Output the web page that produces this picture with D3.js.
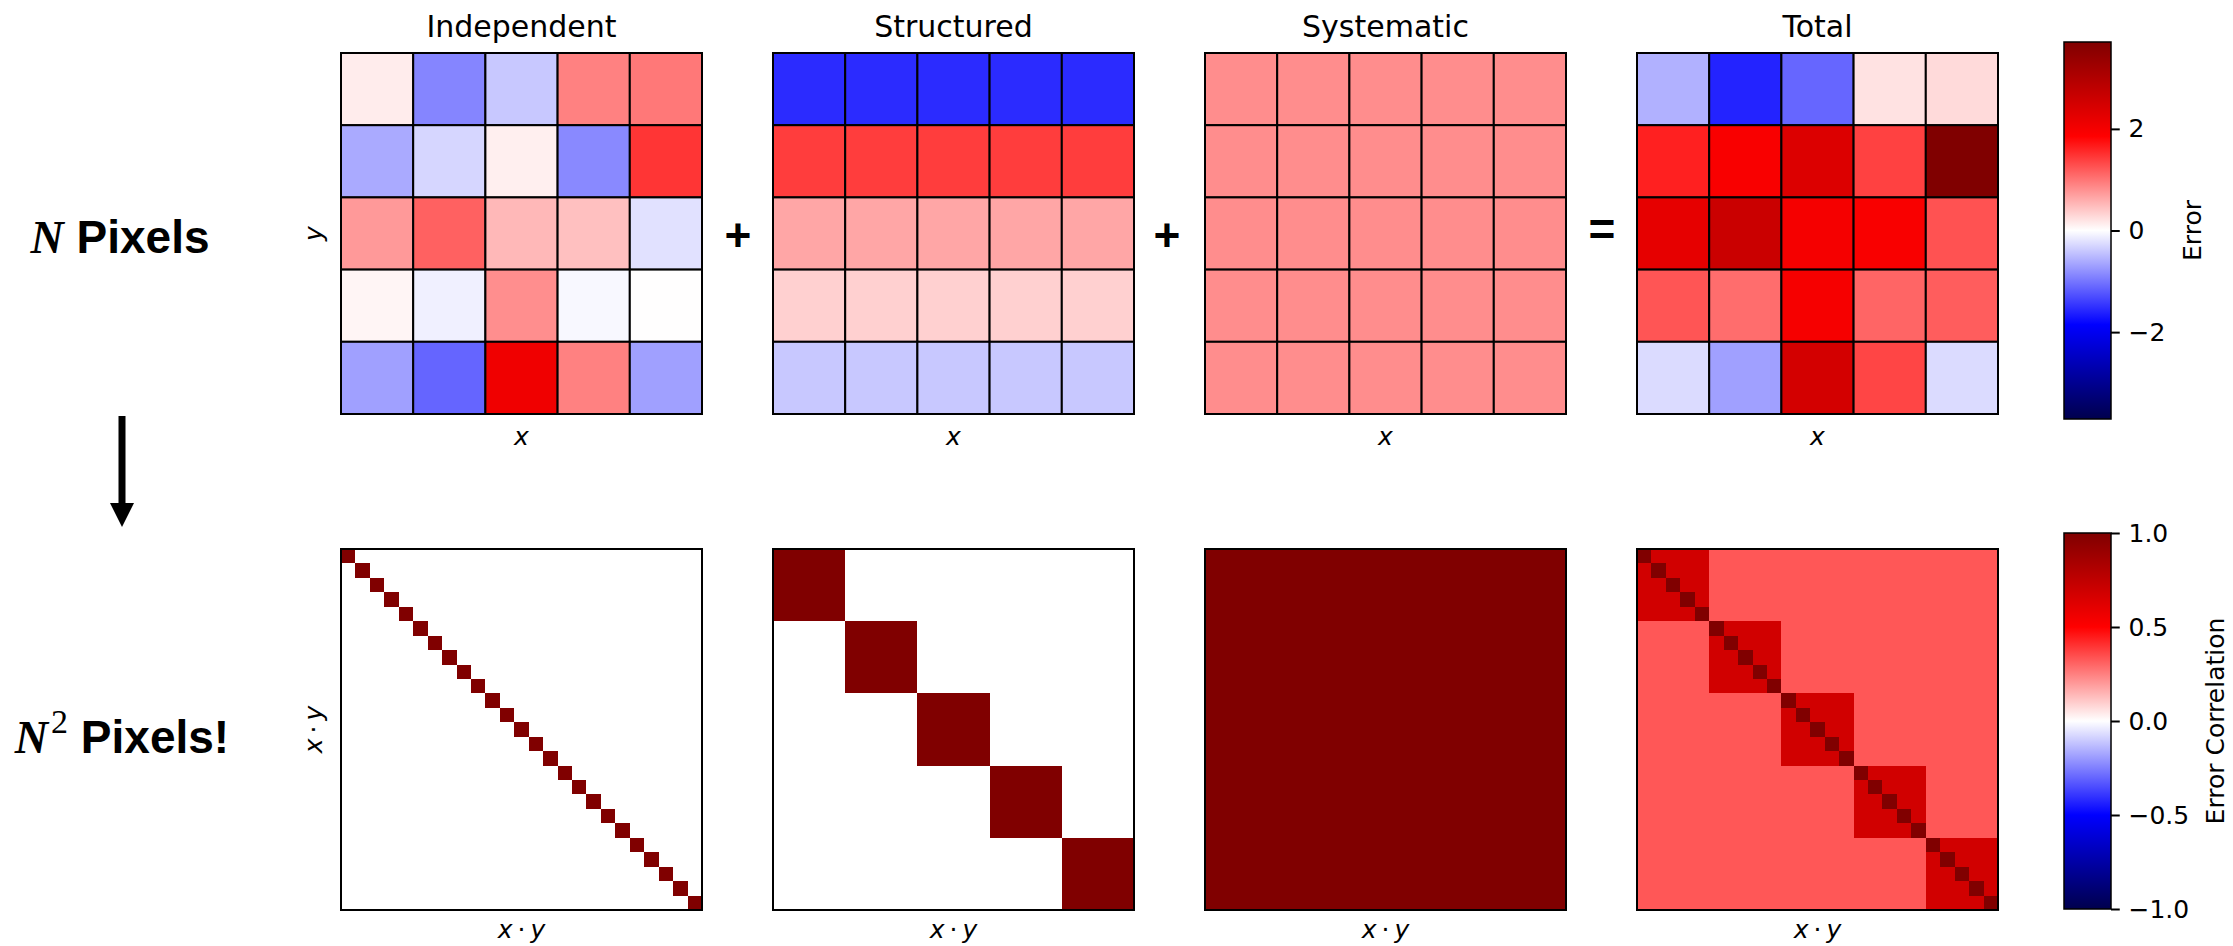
<!DOCTYPE html>
<html>
<head>
<meta charset="utf-8">
<script src="https://cdn.jsdelivr.net/npm/d3@7"></script>
<style>
  body { margin: 0; background: #fff; }
  text { font-family: "DejaVu Sans", sans-serif; fill: #000; }
</style>
</head>
<body>
<div class="canvas"></div>
<script>
// panel titles
const titles = ["Independent", "Structured", "Systematic", "Total"];

// error maps (5x5, row 0 at top)
const independent = [
  [ 0.14, -0.89, -0.40,  0.92,  0.98],
  [-0.62, -0.30,  0.12, -0.86,  1.47],
  [ 0.74,  1.15,  0.52,  0.46, -0.22],
  [ 0.07, -0.11,  0.82, -0.05,  0.01],
  [-0.69, -1.12,  2.07,  0.92, -0.69]
];
const structured = [
  [-1.54, -1.54, -1.54, -1.54, -1.54],
  [ 1.41,  1.41,  1.41,  1.41,  1.41],
  [ 0.65,  0.65,  0.65,  0.65,  0.65],
  [ 0.34,  0.34,  0.34,  0.34,  0.34],
  [-0.40, -0.40, -0.40, -0.40, -0.40]
];
const systematic = [
  [0.83, 0.83, 0.83, 0.83, 0.83],
  [0.83, 0.83, 0.83, 0.83, 0.83],
  [0.83, 0.83, 0.83, 0.83, 0.83],
  [0.83, 0.83, 0.83, 0.83, 0.83],
  [0.83, 0.83, 0.83, 0.83, 0.83]
];
const total = [
  [-0.57, -1.60, -1.11, 0.21, 0.27],
  [ 1.62,  1.94,  2.36, 1.38, 3.71],
  [ 2.22,  2.63,  2.00, 1.94, 1.26],
  [ 1.24,  1.06,  1.99, 1.12, 1.18],
  [-0.26, -0.69,  2.50, 1.35, -0.26]
];
const errorMaps = [independent, structured, systematic, total];

// error correlation levels per panel: same pixel, same row (block), other
const corrDiagonal = [1, 1, 1, 1];
const corrSameRow  = [0, 1, 1, 0.68];
const corrOther    = [0, 0, 1, 0.33];

const errorMax = 3.71;
const errorTicks = [-2, 0, 2];
const corrTicks = [-1, -0.5, 0, 0.5, 1];

const N = 5;

const svg = d3.select(".canvas").append("svg")
    .attr("width", 2233)
    .attr("height", 946);

//layout
const panelX = [341, 773, 1205, 1637];
const size = 361;
const topY = 53, botY = 549;
const cbar = {x: 2064, w: 47, top1: 42, bot1: 419, top2: 533, bot2: 909};

//seismic colormap
const seismic = ["#00004d", "#0000ff", "#ffffff", "#ff0000", "#800000"];
const errColor = d3.scaleLinear()
    .domain([-errorMax, -errorMax / 2, 0, errorMax / 2, errorMax])
    .range(seismic);
const corrColor = d3.scaleLinear()
    .domain([-1, -0.5, 0, 0.5, 1])
    .range(seismic);

const band5 = d3.scaleBand().domain(d3.range(N)).range([0, size]);
const band25 = d3.scaleBand().domain(d3.range(N * N)).range([0, size]);

//top row: error maps
errorMaps.forEach((m, p) => {
  const g = svg.append("g").attr("transform", `translate(${panelX[p]}, ${topY})`);
  const cells = [];
  m.forEach((row, r) => row.forEach((v, c) => cells.push({r, c, v})));
  g.selectAll("rect.cell")
    .data(cells)
    .enter()
    .append("rect")
    .attr("class", "cell")
    .attr("x", d => band5(d.c))
    .attr("y", d => band5(d.r))
    .attr("width", band5.bandwidth())
    .attr("height", band5.bandwidth())
    .attr("fill", d => errColor(d.v))
    .attr("stroke", "#000")
    .attr("stroke-width", 2);
  g.append("rect")
    .attr("width", size).attr("height", size)
    .attr("fill", "none").attr("stroke", "#000").attr("stroke-width", 2);

  svg.append("text")
    .attr("x", panelX[p] + size / 2).attr("y", 37)
    .attr("text-anchor", "middle")
    .style("font-size", "30px")
    .text(titles[p]);

  svg.append("text")
    .attr("x", panelX[p] + size / 2).attr("y", 445)
    .attr("text-anchor", "middle")
    .style("font-size", "25px").style("font-style", "italic")
    .text("x");
});

//bottom row: correlation matrices
errorMaps.forEach((m, p) => {
  const g = svg.append("g").attr("transform", `translate(${panelX[p]}, ${botY})`);
  const cells = [];
  for (let i = 0; i < N * N; i++) {
    for (let j = 0; j < N * N; j++) {
      let v;
      if (i === j) v = corrDiagonal[p];
      else if (Math.floor(i / N) === Math.floor(j / N)) v = corrSameRow[p];
      else v = corrOther[p];
      cells.push({i, j, v});
    }
  }
  g.selectAll("rect.cell")
    .data(cells)
    .enter()
    .append("rect")
    .attr("class", "cell")
    .attr("x", d => band25(d.j))
    .attr("y", d => band25(d.i))
    .attr("width", band25.bandwidth() + 0.5)
    .attr("height", band25.bandwidth() + 0.5)
    .attr("fill", d => corrColor(d.v))
    .attr("shape-rendering", "crispEdges");
  g.append("rect")
    .attr("width", size).attr("height", size)
    .attr("fill", "none").attr("stroke", "#000").attr("stroke-width", 2);

  const lbl = svg.append("text")
    .attr("x", panelX[p] + size / 2).attr("y", 938)
    .attr("text-anchor", "middle")
    .style("font-size", "25px");
  lbl.append("tspan").style("font-style", "italic").text("x");
  lbl.append("tspan").text("\u2009\u00b7\u2009");
  lbl.append("tspan").style("font-style", "italic").text("y");
});

//y labels
svg.append("text")
  .attr("transform", `translate(322, ${topY + size / 2}) rotate(-90)`)
  .attr("text-anchor", "middle")
  .style("font-size", "25px").style("font-style", "italic")
  .text("y");
const ylbl = svg.append("text")
  .attr("transform", `translate(322, ${botY + size / 2}) rotate(-90)`)
  .attr("text-anchor", "middle")
  .style("font-size", "25px");
ylbl.append("tspan").style("font-style", "italic").text("x");
ylbl.append("tspan").text("\u2009\u00b7\u2009");
ylbl.append("tspan").style("font-style", "italic").text("y");

//operators
const ops = [["+", 738, 251], ["+", 1167, 251], ["=", 1602, 245]];
ops.forEach(o => {
  svg.append("text")
    .attr("x", o[1]).attr("y", o[2])
    .attr("text-anchor", "middle")
    .style("font-family", "'Liberation Sans', Arial, sans-serif")
    .style("font-weight", "bold")
    .style("font-size", "46px")
    .text(o[0]);
});

//row captions
const cap1 = svg.append("text")
  .attr("x", 120).attr("y", 253)
  .attr("text-anchor", "middle")
  .style("font-family", "'Liberation Sans', Arial, sans-serif")
  .style("font-weight", "bold")
  .style("font-size", "46px");
cap1.append("tspan").style("font-family", "'Liberation Serif', serif").style("font-style", "italic").text("N");
cap1.append("tspan").text(" Pixels");

const cap2 = svg.append("text")
  .attr("x", 122).attr("y", 753)
  .attr("text-anchor", "middle")
  .style("font-family", "'Liberation Sans', Arial, sans-serif")
  .style("font-weight", "bold")
  .style("font-size", "46px");
cap2.append("tspan").style("font-family", "'Liberation Serif', serif").style("font-style", "italic").text("N");
cap2.append("tspan").attr("dx", 3).attr("dy", -20).style("font-family", "'Liberation Serif', serif")
  .style("font-weight", "normal").style("font-size", "34px").text("2");
cap2.append("tspan").attr("dy", 20).text(" Pixels!");

//arrow
svg.append("rect").attr("x", 118.5).attr("y", 416).attr("width", 7).attr("height", 90).attr("fill", "#000");
svg.append("path").attr("d", "M110,503 L134,503 L122,527 Z").attr("fill", "#000");

//colorbars
function colorbar(id, color, domain, top, bottom, ticks, label, labelX, fmtSpec) {
  const grad = svg.append("defs").append("linearGradient")
    .attr("id", id).attr("x1", 0).attr("y1", 1).attr("x2", 0).attr("y2", 0);
  color.domain().forEach(v => {
    grad.append("stop")
      .attr("offset", (v - domain[0]) / (domain[1] - domain[0]))
      .attr("stop-color", color(v));
  });
  svg.append("rect")
    .attr("x", cbar.x).attr("y", top)
    .attr("width", cbar.w).attr("height", bottom - top)
    .attr("fill", `url(#${id})`)
    .attr("stroke", "#000").attr("stroke-width", 1.5);

  const scale = d3.scaleLinear().domain(domain).range([bottom, top]);
  const axis = d3.axisRight(scale)
    .tickValues(ticks)
    .tickSize(8.75)
    .tickPadding(8.75)
    .tickFormat(d => (d < 0 ? "\u2212" : "") + d3.format(fmtSpec)(Math.abs(d)));
  const ag = svg.append("g")
    .attr("transform", `translate(${cbar.x + cbar.w}, 0)`)
    .call(axis);
  ag.select(".domain").remove();
  ag.selectAll(".tick line").attr("stroke", "#000").attr("stroke-width", 2);
  ag.selectAll(".tick text")
    .attr("fill", "#000")
    .style("font-family", "'DejaVu Sans', sans-serif")
    .style("font-size", "25px");

  svg.append("text")
    .attr("transform", `translate(${labelX}, ${(top + bottom) / 2}) rotate(-90)`)
    .attr("text-anchor", "middle")
    .style("font-size", "25px")
    .text(label);
}

colorbar("gradErr", errColor, [-errorMax, errorMax], cbar.top1, cbar.bot1, errorTicks, "Error", 2201, "d");
colorbar("gradCorr", corrColor, [-1, 1], cbar.top2, cbar.bot2, corrTicks, "Error Correlation", 2224, ".1f");
</script>
</body>
</html>
